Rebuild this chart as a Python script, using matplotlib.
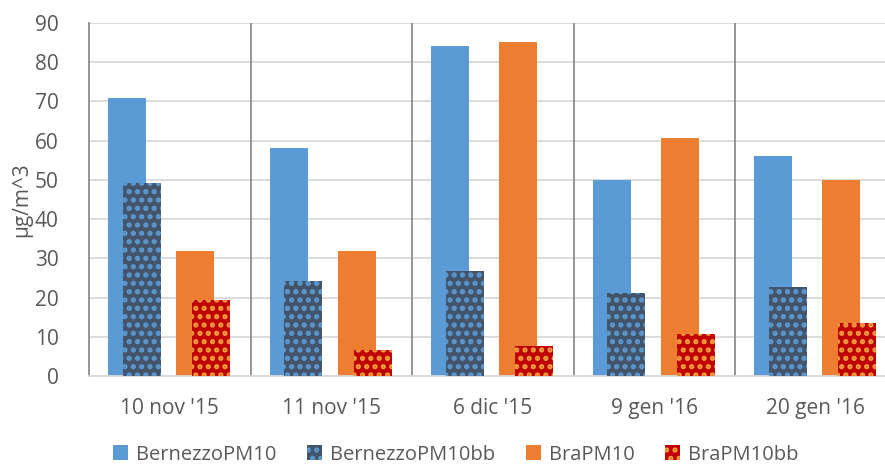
import matplotlib.pyplot as plt
import numpy as np

plt.rcParams['font.family'] = ['Open Sans', 'DejaVu Sans']
plt.rcParams['hatch.linewidth'] = 2.5

# data
categories = ["10 nov '15", "11 nov '15", "6 dic '15", "9 gen '16", "20 gen '16"]
bernezzo_pm10 = [70.9, 58.1, 84.1, 50.0, 56.1]
bernezzo_pm10bb = [49.1, 24.2, 26.8, 21.2, 22.7]
bra_pm10 = [31.9, 31.9, 85.2, 60.7, 50.0]
bra_pm10bb = [19.3, 6.5, 7.6, 10.6, 13.6]

text_col = '#595959'

fig = plt.figure(figsize=(8.85, 4.68), dpi=100)
ax = fig.add_axes([0.1006, 0.1966, 0.9124, 0.7543])

x = np.arange(len(categories))
w = 0.235

ax.bar(x + 0.118, bernezzo_pm10, w, align='edge', color='#5B9BD5',
       label='BernezzoPM10', zorder=2)
ax.bar(x + 0.21, bernezzo_pm10bb, w, align='edge', facecolor='#44546A',
       edgecolor='#5B9BD5', hatch='..', linewidth=0,
       label='BernezzoPM10bb', zorder=3)
ax.bar(x + 0.54, bra_pm10, w, align='edge', color='#ED7D31',
       label='BraPM10', zorder=2)
ax.bar(x + 0.64, bra_pm10bb, w, align='edge', facecolor='#C00000',
       edgecolor='#F4A040', hatch='..', linewidth=0,
       label='BraPM10bb', zorder=3)

ax.set_xlim(0, len(categories))
ax.set_ylim(0, 90)
ax.set_yticks(np.arange(0, 91, 10))
ax.set_xticks(x + 0.5)
ax.set_xticklabels(categories)
ax.tick_params(axis='both', length=0, labelsize=15, colors=text_col)
ax.tick_params(axis='x', pad=16)
ax.tick_params(axis='y', pad=22)

ax.yaxis.grid(True, color='#D9D9D9', linewidth=1.3, zorder=0)
ax.set_axisbelow(True)
for b in x[1:]:
    ax.axvline(b, color='#8C8C8C', linewidth=1.3, zorder=1)

for s in ['top', 'right']:
    ax.spines[s].set_visible(False)
ax.spines['left'].set_color('#8C8C8C')
ax.spines['left'].set_linewidth(1.3)
ax.spines['bottom'].set_color('#D9D9D9')
ax.spines['bottom'].set_linewidth(1.3)

ax.set_ylabel('µg/m^3', fontsize=15, color=text_col, labelpad=2)

fig.legend(loc='center', bbox_to_anchor=(0.515, 0.028), ncol=4,
           frameon=False, fontsize=14.5, labelcolor=text_col,
           handlelength=0.75, handleheight=0.75, columnspacing=1.5,
           handletextpad=0.4, borderpad=0.2)

fig.savefig('out.png', dpi=100)
